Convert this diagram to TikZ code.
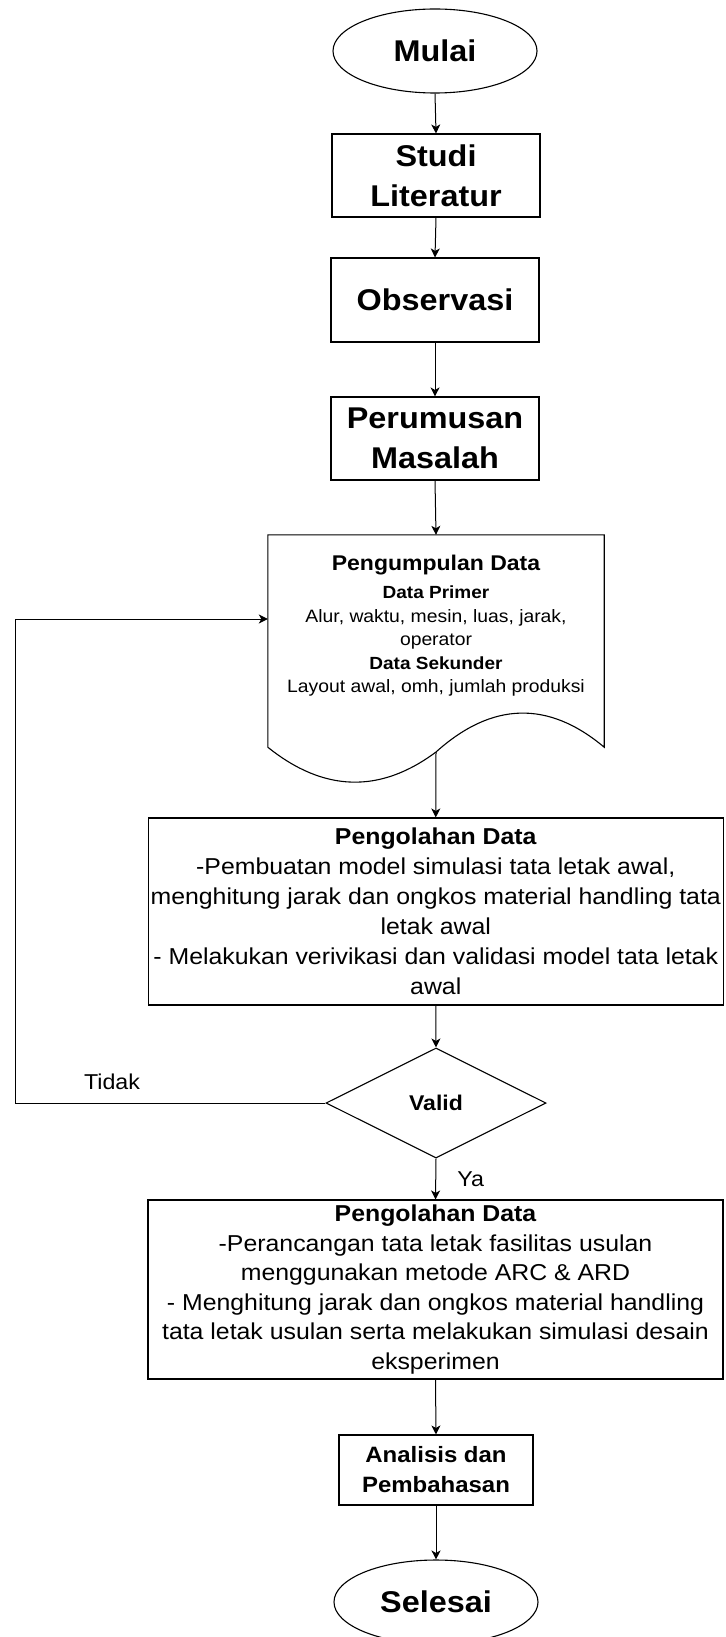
\documentclass[tikz,border=0pt]{standalone}
\usepackage{fontspec}
\setmainfont{Liberation Sans}[FakeStretch=1.08]
\usetikzlibrary{shapes.geometric,arrows.meta}
\begin{document}
\begin{tikzpicture}[x=1pt,y=-1pt,
  box/.style={draw, line width=1.1pt, rectangle, inner sep=0pt, align=center},
  term/.style={draw, line width=1.1pt, ellipse, inner sep=0pt, minimum width=204pt, minimum height=84pt},
  big/.style={font=\fontsize{30}{40}\selectfont\bfseries, align=center},
  arr/.style={-{Stealth[length=9pt,width=9pt,inset=2.5pt]}, line width=1pt},
  lbl/.style={inner sep=0pt, font=\fontsize{21.5}{26}\selectfont}
]
\fill[white] (0,0) rectangle (725,1637);
\useasboundingbox (0,0) rectangle (725,1637);

\node[term, big] (mulai) at (435,51) {Mulai};
\node[box, big, minimum width=208pt, minimum height=83pt] (studi) at (436,175.5) {Studi\\Literatur};
\node[box, big, minimum width=208pt, minimum height=84pt] (obs) at (435,300) {Observasi};
\node[box, big, minimum width=208pt, minimum height=83pt] (rumus) at (435,438.5) {Perumusan\\Masalah};

\node[minimum width=336pt, minimum height=212pt, inner sep=0pt] (doc) at (436,641) {};
\coordinate (docmid) at (436,752);
\draw[line width=1.1pt] (doc.north west) -- (doc.north east) -- (doc.south east)
  .. controls +(-56,-47) and +(56,-50.3) .. (docmid)
  .. controls +(-56,41.7) and +(56,45) .. (doc.south west) -- cycle;
\node[align=center, inner sep=0pt, font=\fontsize{17.9}{23.5}\selectfont] (doctext) at (436,626)
  {{\fontsize{21.3}{23.5}\selectfont\bfseries Pengumpulan Data}\\[4.5pt]
   {\bfseries\fontsize{17.6}{23.5}\selectfont Data Primer}\\
   Alur, waktu, mesin, luas, jarak,\\
   operator\\
   {\bfseries\fontsize{17.6}{23.5}\selectfont Data Sekunder}\\
   Layout awal, omh, jumlah produksi};

\node[box, minimum width=575pt, minimum height=187pt, font=\fontsize{23}{30}\selectfont] (olah1) at (435.75,911.5)
  {{\bfseries Pengolahan Data}\\
   -Pembuatan model simulasi tata letak awal,\\
   menghitung jarak dan ongkos material handling tata\\
   letak awal\\
   - Melakukan verivikasi dan validasi model tata letak\\
   awal};

\node[draw, line width=1.1pt, diamond, inner sep=0pt, minimum width=220pt, minimum height=110pt,
  font=\fontsize{21.3}{26}\selectfont\bfseries] (valid) at (436,1103) {Valid};

\node[box, minimum width=575pt, minimum height=179pt, font=\fontsize{23}{29.6}\selectfont] (olah2) at (435.5,1289.5)
  {{\bfseries Pengolahan Data}\\
   -Perancangan tata letak fasilitas usulan\\
   menggunakan metode ARC \& ARD\\
   - Menghitung jarak dan ongkos material handling\\
   tata letak usulan serta melakukan simulasi desain\\
   eksperimen};

\node[box, minimum width=194pt, minimum height=70pt, font=\fontsize{22.2}{30}\selectfont\bfseries] (anal) at (436,1470)
  {Analisis dan\\Pembahasan};

\node[term, big] (selesai) at (436,1602) {Selesai};

\draw[arr] (mulai.south) -- (studi.north);
\draw[arr] (studi.south) -- (obs.north);
\draw[arr] (obs.south) -- (rumus.north);
\draw[arr] (rumus.south) -- (doc.north);
\draw[arr] (docmid) -- (olah1.north);
\draw[arr] (olah1.south) -- (valid.north);
\draw[arr] (valid.south) -- node[lbl, pos=0.5, anchor=west, xshift=21pt] (ya) {Ya} (olah2.north);
\coordinate (lb) at (15,1103);
\coordinate (lt) at (15,619);
\draw[arr] (valid.west) -- (lb) -- (lt) -- (lt -| doc.west);
\node[lbl] (tidak) at (112,1082) {Tidak};
\draw[arr] (olah2.south) -- (anal.north);
\draw[arr] (anal.south) -- (selesai.north);
\end{tikzpicture}
\end{document}
